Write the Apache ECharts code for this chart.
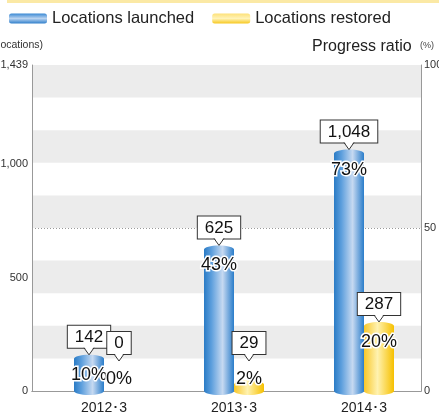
<!DOCTYPE html>
<html>
<head>
<meta charset="utf-8">
<script src="https://cdn.jsdelivr.net/npm/echarts@6/dist/echarts.min.js"></script>
<style>
html, body { margin: 0; padding: 0; background: #fff; }
#container { width: 439px; height: 419px; }
</style>
</head>
<body>
<div id="container"></div>
<script>
var categories = ['2012･3', '2013･3', '2014･3'];
var launched = [142, 625, 1048];
var restored = [0, 29, 287];
var launchedRatio = [10, 43, 73];
var restoredRatio = [0, 2, 20];
var locationsMax = 1439;
var ratioLabels = [0, 50, 100];

var FONT = '"Liberation Sans", Arial, sans-serif';
var barWidth = 30;

var blueStops = [
    { offset: 0, color: '#2a7bc5' },
    { offset: 0.25, color: '#5d9fdd' },
    { offset: 0.62, color: '#c6d9f1' },
    { offset: 1, color: '#2a7dca' }
];
var yellowStops = [
    { offset: 0, color: '#f8c72a' },
    { offset: 0.45, color: '#fff2b0' },
    { offset: 1, color: '#f6c000' }
];

var chart = echarts.init(document.getElementById('container'));

function toSeriesData(values, ratios) {
    return values.map(function (v, i) {
        return [i, v, ratios[i]];
    });
}

// draws one cylinder with its count callout and ratio label
function renderCylinder(side, stops) {
    return function (params, api) {
        var idx = api.value(0);
        var value = api.value(1);
        var ratio = api.value(2);
        var top = api.coord([idx, value]);
        var base = api.coord([idx, 0]);
        var cx = top[0] + side * barWidth / 2;
        var rx = barWidth / 2;
        var ry = 4;
        var children = [];

        if (value > 0) {
            var fill = new echarts.graphic.LinearGradient(0, 0, 1, 0, stops);
            children.push(
                { type: 'rect', shape: { x: cx - rx, y: top[1], width: barWidth, height: base[1] - top[1] }, style: { fill: fill } },
                { type: 'ellipse', shape: { cx: cx, cy: base[1], rx: rx, ry: ry }, style: { fill: fill } },
                { type: 'ellipse', shape: { cx: cx, cy: top[1], rx: rx, ry: ry }, style: { fill: fill } }
            );
        }

        var tipY = Math.min(top[1] - 4, base[1] - 30);
        var boxBottom = tipY - 7;
        children.push(
            {
                type: 'text', x: cx, y: boxBottom,
                style: {
                    text: echarts.format.addCommas(value),
                    font: '17px ' + FONT, fill: '#111',
                    align: 'center', verticalAlign: 'bottom',
                    backgroundColor: '#fff', borderColor: '#333', borderWidth: 1,
                    padding: [3, 7, 2, 7]
                }
            },
            { type: 'polygon', shape: { points: [[cx - 5, boxBottom - 1.5], [cx + 5, boxBottom - 1.5], [cx, tipY]] }, style: { fill: '#fff' } },
            { type: 'polyline', shape: { points: [[cx - 5, boxBottom], [cx, tipY], [cx + 5, boxBottom]] }, style: { fill: null, stroke: '#333', lineWidth: 1 } }
        );

        children.push({
            type: 'text', x: cx, y: Math.min(top[1] + 16, base[1] - 12),
            style: {
                text: ratio + '%', font: '18px ' + FONT, fill: '#111',
                stroke: '#fff', lineWidth: 3, strokeFirst: true,
                align: 'center', verticalAlign: 'middle'
            }
        });
        return { type: 'group', children: children };
    };
}

var option = {
    animation: false,
    graphic: [
        { type: 'rect', shape: { x: 7, y: 0, width: 432, height: 3 }, style: { fill: '#fbe9a5' } },
        { type: 'text', x: 43, y: 45, style: { text: '(Locations)', font: '10.5px ' + FONT, fill: '#333', align: 'right', verticalAlign: 'middle' } },
        { type: 'text', x: 312, y: 47, style: { text: 'Progress ratio', font: '16px ' + FONT, fill: '#222', verticalAlign: 'middle' } },
        { type: 'text', x: 420, y: 46, style: { text: '(%)', font: '9px ' + FONT, fill: '#444', verticalAlign: 'middle' } }
    ],
    legend: {
        left: 9,
        top: 10,
        padding: 0,
        itemWidth: 38,
        itemHeight: 10,
        itemGap: 18,
        selectedMode: false,
        textStyle: { fontFamily: FONT, fontSize: 16.5, color: '#222' },
        data: [{
            name: 'Locations launched',
            icon: 'roundRect',
            itemStyle: {
                color: new echarts.graphic.LinearGradient(0, 0, 0, 1, [
                    { offset: 0, color: '#3a89d4' },
                    { offset: 0.5, color: '#b9d3f0' },
                    { offset: 1, color: '#2f7fcb' }
                ])
            }
        }, {
            name: 'Locations restored',
            icon: 'roundRect',
            itemStyle: {
                color: new echarts.graphic.LinearGradient(0, 0, 0, 1, [
                    { offset: 0, color: '#fde179' },
                    { offset: 0.5, color: '#fff3b8' },
                    { offset: 1, color: '#f7c81e' }
                ])
            }
        }]
    },
    grid: [
        { left: 32, right: 18, top: 65, bottom: 28, outerBoundsMode: 'none', containLabel: false },
        { left: 39, right: 10, top: 65, bottom: 28, outerBoundsMode: 'none', containLabel: false }
    ],
    xAxis: [{
        gridIndex: 0,
        type: 'category',
        data: categories,
        position: 'bottom',
        axisLine: { show: true, lineStyle: { color: '#999' } },
        axisTick: { show: false },
        axisLabel: { show: false }
    }, {
        gridIndex: 1,
        type: 'category',
        data: categories,
        axisLine: { show: false },
        axisTick: { show: false },
        axisLabel: { margin: 10, fontFamily: FONT, fontSize: 14, color: '#222' }
    }, {
        gridIndex: 0,
        type: 'category',
        data: categories,
        position: 'top',
        axisLine: { show: true, lineStyle: { color: '#999' } },
        axisTick: { show: false },
        axisLabel: { show: false }
    }],
    yAxis: [{
        gridIndex: 0,
        type: 'value',
        position: 'left',
        min: 0,
        max: locationsMax,
        interval: 500,
        axisLine: { show: true, lineStyle: { color: '#999' } },
        axisTick: { show: false },
        splitLine: { show: false },
        axisLabel: { margin: 4, fontFamily: FONT, fontSize: 11, color: '#333' }
    }, {
        gridIndex: 0,
        type: 'value',
        position: 'right',
        min: 0,
        max: 100,
        interval: 10,
        axisLine: { show: true, lineStyle: { color: '#999' } },
        axisTick: { show: false },
        splitLine: { show: false },
        splitArea: { show: true, areaStyle: { color: ['rgba(255,255,255,0)', '#ececec'] } },
        axisLabel: {
            margin: 3, fontFamily: FONT, fontSize: 11, color: '#333',
            formatter: function (v) {
                return ratioLabels.indexOf(v) >= 0 ? String(v) : '';
            }
        }
    }, {
        gridIndex: 1,
        type: 'value',
        min: 0,
        max: locationsMax,
        show: false
    }],
    series: [{
        name: 'half',
        type: 'line',
        xAxisIndex: 0,
        yAxisIndex: 1,
        data: [],
        silent: true,
        markLine: {
            z: 1,
            silent: true,
            symbol: 'none',
            label: { show: false },
            lineStyle: { color: '#999', width: 1, type: [1, 2] },
            data: [{ yAxis: 50 }]
        }
    }, {
        name: 'Locations launched',
        type: 'custom',
        xAxisIndex: 1,
        yAxisIndex: 2,
        encode: { x: 0, y: 1 },
        renderItem: renderCylinder(-1, blueStops),
        data: toSeriesData(launched, launchedRatio)
    }, {
        name: 'Locations restored',
        type: 'custom',
        xAxisIndex: 1,
        yAxisIndex: 2,
        encode: { x: 0, y: 1 },
        renderItem: renderCylinder(1, yellowStops),
        data: toSeriesData(restored, restoredRatio)
    }]
};
chart.setOption(option);
</script>
</body>
</html>
